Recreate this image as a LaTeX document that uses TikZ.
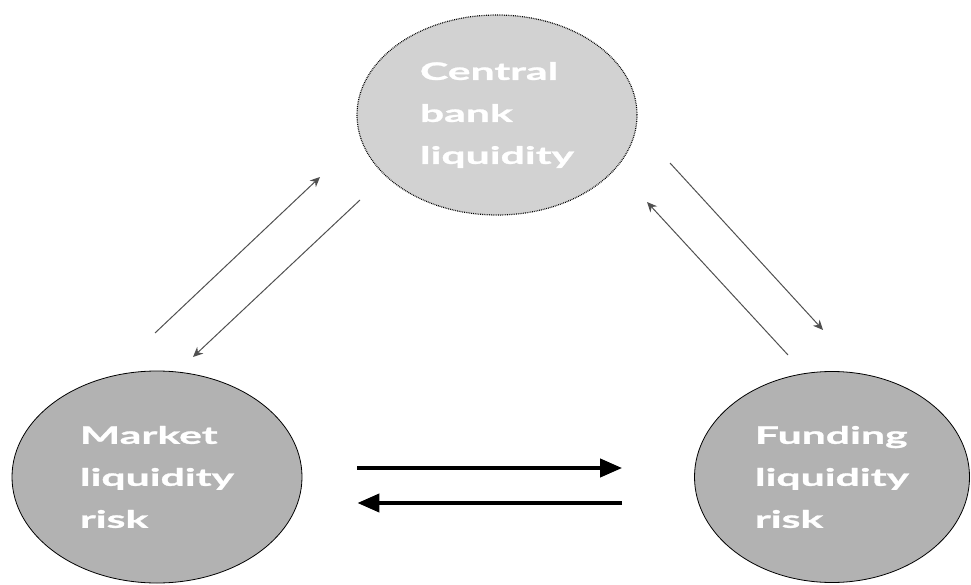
\documentclass[tikz,border=0pt]{standalone}
\usepackage{fontspec}
\newfontfamily\riskfont{Lato}[FakeStretch=1.78, BoldFeatures={FakeBold=1.2}]
\usepackage{tikz}
\usetikzlibrary{arrows.meta,shapes.geometric}
\definecolor{riskgray}{RGB}{178,178,178}
\definecolor{bankgray}{RGB}{210,210,210}
\definecolor{feedgray}{RGB}{80,80,80}
\tikzstyle{risk}=[ellipse, draw, thick, fill=riskgray, minimum width=290pt, minimum height=212pt, inner sep=0pt, text=white, align=left, font=\riskfont\bfseries\fontsize{24}{42}\selectfont]
\tikzstyle{bank}=[risk, fill=bankgray, densely dotted, line width=1.2pt, minimum width=280pt, minimum height=200pt]
\tikzstyle{flow}=[draw, line width=4pt, -{Triangle[length=22pt,width=18pt]}]
\tikzstyle{feed}=[draw, feedgray, line width=1pt, -{Stealth[length=10pt,width=9pt]}]

\begin{document}
\begin{tikzpicture}[x=1pt, y=-1pt]
      %
      \path[use as bounding box] (0,0) rectangle (971,585);
      %
      % the three liquidity nodes
      %
      \node[risk] (market) at (157,477) {Market\\liquidity\\risk};
      \node[risk, minimum width=275pt, minimum height=211pt] (funding) at (832,477) {Funding\\liquidity\\risk};
      \node[bank] (central) at (497,115) {Central\\bank\\liquidity};
      %
      % Market risk <--> Funding risk
      %
      \path[flow, shorten <=55pt, shorten >=72pt] ([yshift=9pt]market.east) -- ([yshift=9pt]funding.west);
      \path[flow, shorten <=72pt, shorten >=55pt] ([yshift=-26pt]funding.west) -- ([yshift=-26pt]market.east);
      %
      % Market risk <--> Central bank
      %
      \coordinate (ml1) at (155,333);
      \coordinate (cb1) at (320,177);
      \coordinate (cb2) at (360,200);
      \coordinate (ml2) at (193,357);
      \path[feed] (ml1) -- (cb1);
      \path[feed] (cb2) -- (ml2);
      %
      % Central bank <--> Funding risk
      %
      \coordinate (cb3) at (670,163);
      \coordinate (fl3) at (823,330);
      \coordinate (fl4) at (788,355);
      \coordinate (cb4) at (647,202);
      \path[feed] (cb3) -- (fl3);
      \path[feed] (fl4) -- (cb4);
      %
\end{tikzpicture}
\end{document}
